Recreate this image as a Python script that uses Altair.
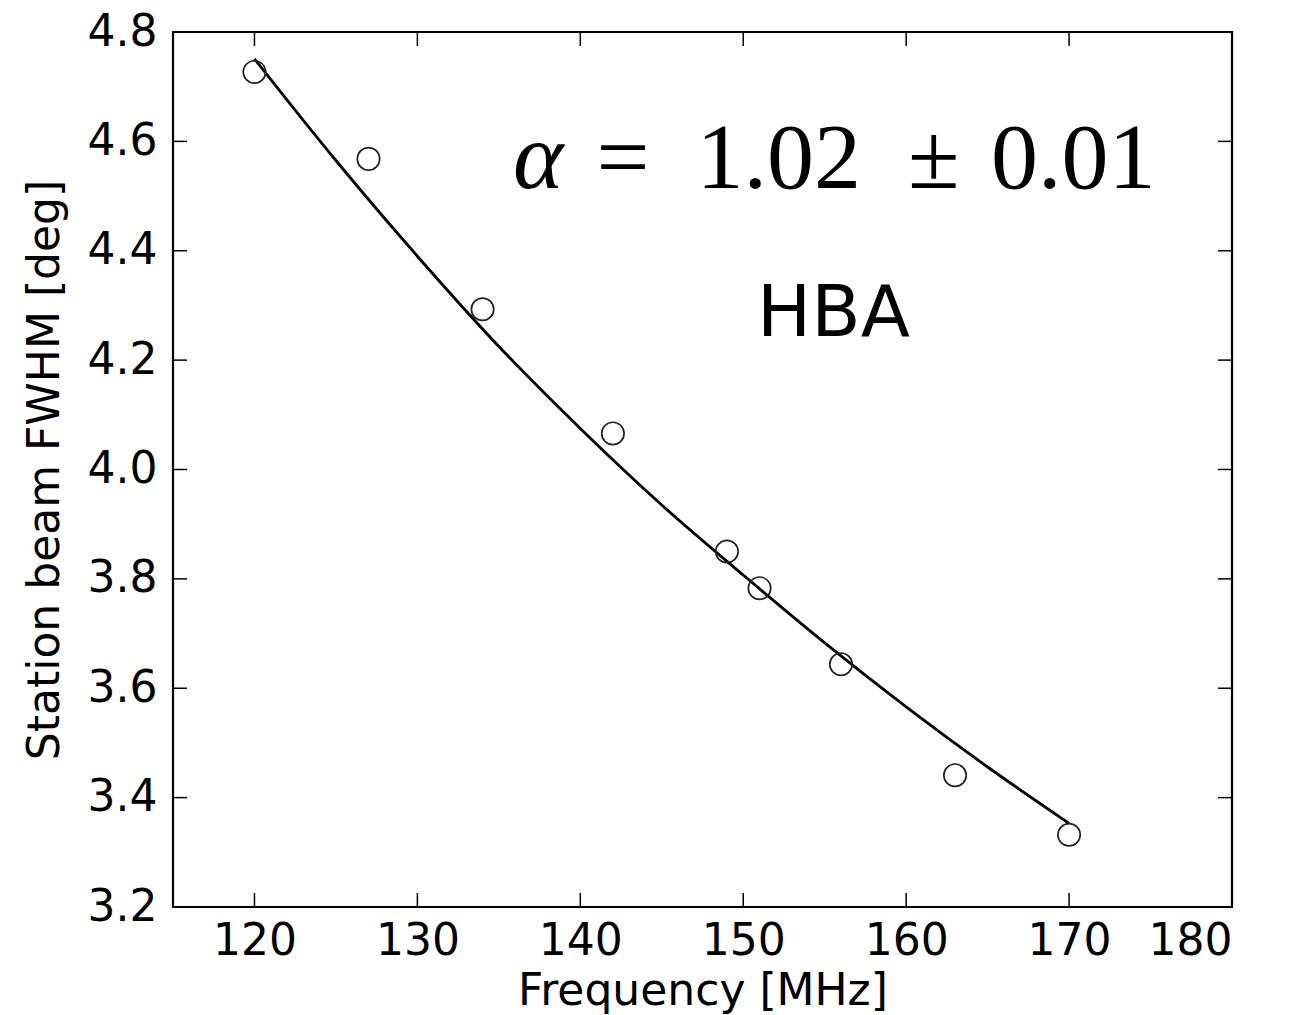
import altair as alt
import pandas as pd

# Measured points
freq = [120, 127, 134, 142, 149, 151, 156, 163, 170]
fwhm = [4.727, 4.568, 4.293, 4.066, 3.850, 3.783, 3.644, 3.441, 3.332]

# Fitted curve
line_freq = [120, 125, 130, 135, 140, 145, 150, 155, 160, 165, 170]
line_fwhm = [4.751, 4.565, 4.39, 4.225, 4.075, 3.935, 3.807, 3.683, 3.566, 3.456, 3.353]

x_ticks = [120, 130, 140, 150, 160, 170, 180]
y_ticks = [3.2, 3.4, 3.6, 3.8, 4.0, 4.2, 4.4, 4.6, 4.8]

W, H = 1059, 875
TL = 14

pts = pd.DataFrame({"f": freq, "w": fwhm})
fit = pd.DataFrame({"f": line_freq, "w": line_fwhm})
xt = pd.DataFrame({"f": x_ticks})
yt = pd.DataFrame({"w": y_ticks})

xs = alt.Scale(domain=[115, 180], nice=False, zero=False)
ys = alt.Scale(domain=[3.2, 4.8], nice=False, zero=False)

X = alt.X("f:Q", scale=xs, title="Frequency [MHz]",
          axis=alt.Axis(values=x_ticks, format="d", tickSize=0, domain=False, grid=False,
                        labelFont="DejaVu Sans", labelFontSize=44, labelColor="black",
                        labelPadding=12, titleFont="DejaVu Sans", titleFontSize=44,
                        titleFontWeight="normal", titleColor="black",
                        titleBaseline="alphabetic", titleY=97))
Y = alt.Y("w:Q", scale=ys, title="Station beam FWHM [deg]",
          axis=alt.Axis(values=y_ticks, format=".1f", tickSize=0, domain=False, grid=False,
                        labelFont="DejaVu Sans", labelFontSize=44, labelColor="black",
                        labelPadding=16, titleFont="DejaVu Sans", titleFontSize=44,
                        titleFontWeight="normal", titleColor="black",
                        titleBaseline="alphabetic", titleX=-115))

line = alt.Chart(fit).mark_line(color="black", strokeWidth=2.8, interpolate="monotone").encode(x=X, y=Y)
circles = alt.Chart(pts).mark_point(shape="circle", size=500, filled=False, color="#222222",
                                    strokeWidth=1.7, opacity=1).encode(
    x=alt.X("f:Q", scale=xs), y=alt.Y("w:Q", scale=ys))

tick_style = dict(color="black", strokeWidth=1.5)
bt = alt.Chart(xt).mark_rule(**tick_style).encode(x=alt.X("f:Q", scale=xs), y=alt.value(H), y2=alt.value(H - TL))
tt = alt.Chart(xt).mark_rule(**tick_style).encode(x=alt.X("f:Q", scale=xs), y=alt.value(0), y2=alt.value(TL))
lt = alt.Chart(yt).mark_rule(**tick_style).encode(y=alt.Y("w:Q", scale=ys), x=alt.value(0), x2=alt.value(TL))
rt = alt.Chart(yt).mark_rule(**tick_style).encode(y=alt.Y("w:Q", scale=ys), x=alt.value(W), x2=alt.value(W - TL))

# Annotations (anchored in data units)
alpha_df = pd.DataFrame({"f": [135.87], "w": [4.515], "t": ["α"]})
eq_df = pd.DataFrame({"f": [141.0], "w": [4.515], "t": ["=\u20021.02\u2002±\u20040.01"]})
hba_df = pd.DataFrame({"f": [155.54], "w": [4.244], "t": ["HBA"]})

alpha_t = alt.Chart(alpha_df).mark_text(font="Liberation Serif", fontStyle="italic", fontSize=96,
                                        align="left", baseline="alphabetic", color="black").encode(
    x=alt.X("f:Q", scale=xs), y=alt.Y("w:Q", scale=ys), text="t:N")
eq_t = alt.Chart(eq_df).mark_text(font="Liberation Serif", fontSize=94,
                                  align="left", baseline="alphabetic", color="black").encode(
    x=alt.X("f:Q", scale=xs), y=alt.Y("w:Q", scale=ys), text="t:N")
hba_t = alt.Chart(hba_df).mark_text(font="DejaVu Sans", fontSize=72,
                                    align="center", baseline="alphabetic", color="black").encode(
    x=alt.X("f:Q", scale=xs), y=alt.Y("w:Q", scale=ys), text="t:N")

chart = alt.layer(line, circles, bt, tt, lt, rt, alpha_t, eq_t, hba_t).properties(
    width=W, height=H,
    autosize=alt.AutoSizeParams(type="none"),
    padding={"left": 173, "top": 32, "right": 67, "bottom": 108},
    background="white",
).configure_view(stroke="black", strokeWidth=2.2)

chart.save("out.html", embed_options={"renderer": "svg", "actions": False})
